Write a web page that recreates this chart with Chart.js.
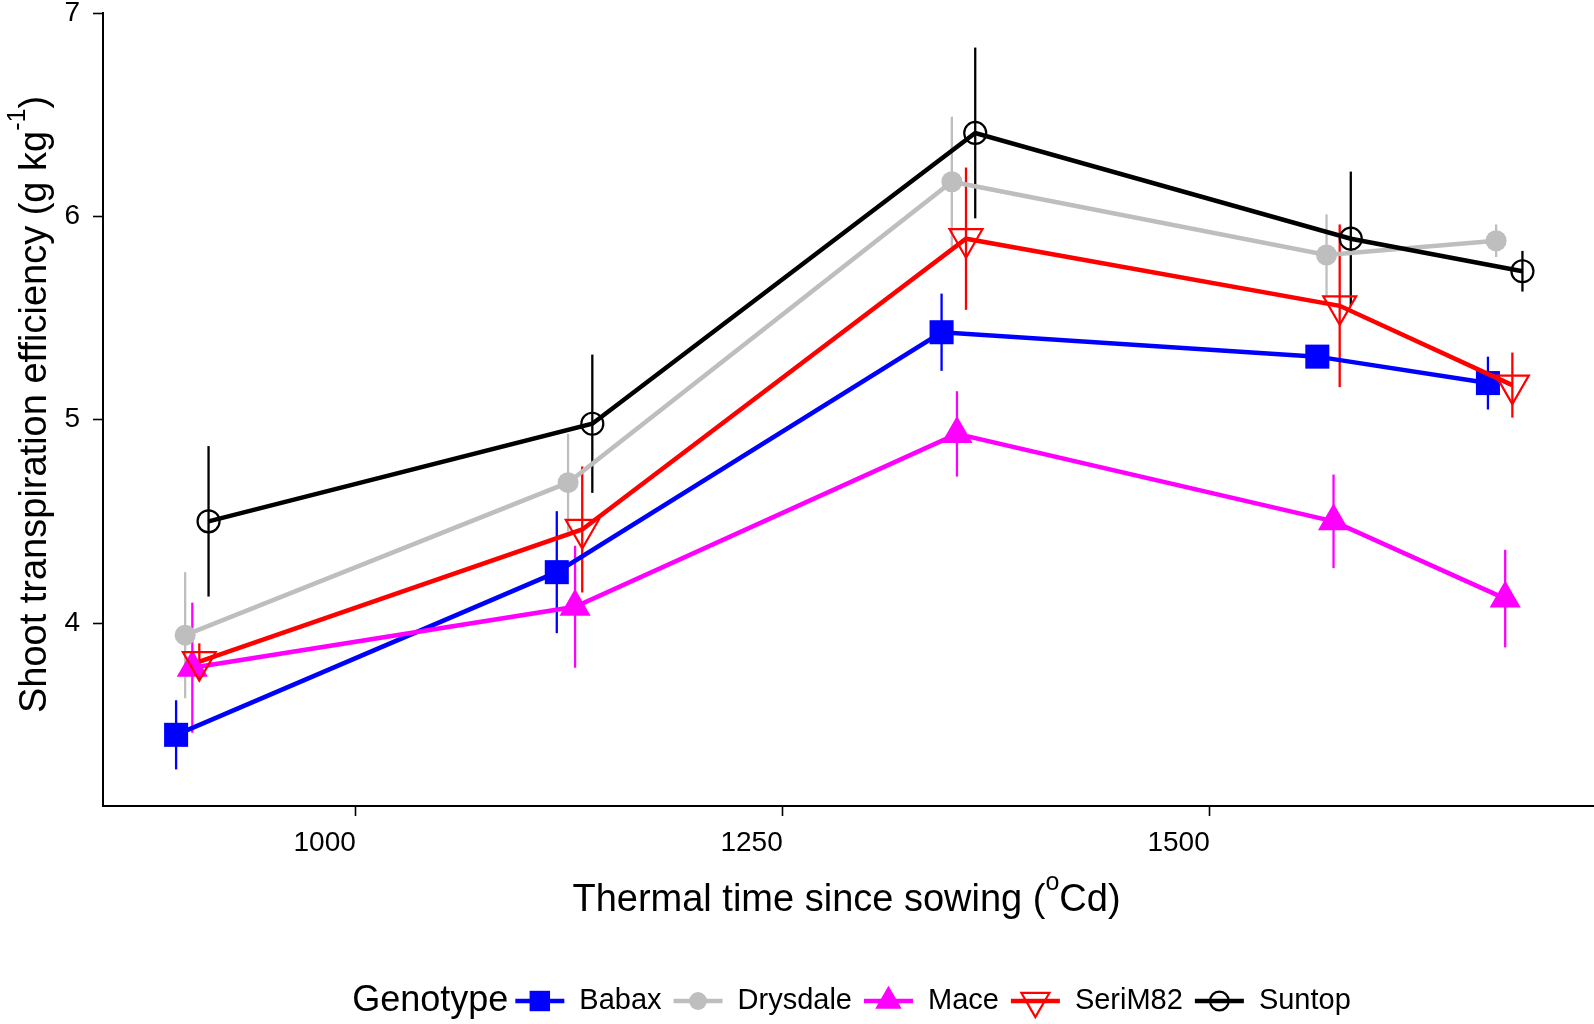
<!DOCTYPE html>
<html>
<head>
<meta charset="utf-8">
<title>Shoot transpiration efficiency</title>
<script src="https://cdn.jsdelivr.net/npm/chart.js@4.4.1/dist/chart.umd.min.js"></script>
<style>
  html, body { margin: 0; padding: 0; background: #fff; }
  #wrap { width: 1594px; height: 1024px; position: relative; }
</style>
</head>
<body>
<div id="wrap"><canvas id="te-chart"></canvas></div>
<script>
// genotypes, in legend order
const genotypes = ['Babax', 'Drysdale', 'Mace', 'SeriM82', 'Suntop'];

// thermal time since sowing (oCd), dodged per genotype
const xBabax = [894.8, 1117.7, 1343.0, 1563.0, 1662.9];
const xDrysdale = [900.1, 1124.3, 1349.0, 1568.4, 1667.7];
const xMace = [904.3, 1128.4, 1352.0, 1572.5, 1673.0];
const xSeriM82 = [908.4, 1132.6, 1357.3, 1576.1, 1677.2];
const xSuntop = [913.8, 1138.5, 1362.7, 1582.6, 1683.1];

// shoot TE means (g/kg)
const yBabax = [3.45, 4.25, 5.43, 5.31, 5.18];
const yDrysdale = [3.94, 4.69, 6.17, 5.81, 5.88];
const yMace = [3.78, 4.08, 4.93, 4.50, 4.12];
const ySeriM82 = [3.81, 4.46, 5.89, 5.56, 5.17];
const ySuntop = [4.50, 4.98, 6.41, 5.89, 5.73];

// standard errors
const eBabax = [0.17, 0.30, 0.19, 0.05, 0.13];
const eDrysdale = [0.31, 0.24, 0.32, 0.20, 0.08];
const eMace = [0.32, 0.30, 0.21, 0.23, 0.24];
const eSeriM82 = [0.09, 0.31, 0.35, 0.40, 0.16];
const eSuntop = [0.37, 0.34, 0.42, 0.33, 0.10];

const xTicks = [1000, 1250, 1500];
const yTicks = [4, 5, 6, 7];

const FONT = "'Liberation Sans', Arial, Helvetica, sans-serif";

const series = [
  { x: xBabax, y: yBabax, e: eBabax },
  { x: xDrysdale, y: yDrysdale, e: eDrysdale },
  { x: xMace, y: yMace, e: eMace },
  { x: xSeriM82, y: ySeriM82, e: eSeriM82 },
  { x: xSuntop, y: ySuntop, e: eSuntop },
];

const colors = ['#0000ff', '#bebebe', '#ff00ff', '#ff0000', '#000000'];
const markers = [
  { style: 'rect', radius: 17, rotation: 0, filled: true },
  { style: 'circle', radius: 10.5, rotation: 0, filled: true },
  { style: 'triangle', radius: 18, rotation: 0, filled: true },
  { style: 'triangle', radius: 19, rotation: 180, filled: false },
  { style: 'circle', radius: 11, rotation: 0, filled: false },
];

// vertical error bars, drawn under lines and points
const errorBars = {
  id: 'errorBars',
  beforeDatasetsDraw(chart) {
    const { ctx } = chart;
    const xs = chart.scales.x;
    const ys = chart.scales.y;
    ctx.save();
    ctx.lineWidth = 2.3;
    chart.data.datasets.forEach((ds, i) => {
      if (!chart.isDatasetVisible(i)) return;
      ctx.strokeStyle = ds.borderColor;
      ds.data.forEach((p, j) => {
        const err = ds.errors[j];
        const px = xs.getPixelForValue(p.x);
        ctx.beginPath();
        ctx.moveTo(px, ys.getPixelForValue(p.y - err));
        ctx.lineTo(px, ys.getPixelForValue(p.y + err));
        ctx.stroke();
      });
    });
    ctx.restore();
  },
};

// text runs with superscripts, e.g. [['(g kg'], ['-1', true], [')']]
function drawRuns(ctx, runs, x, y, size) {
  const supSize = Math.round(size * 0.66);
  const widths = runs.map(([t, sup]) => {
    ctx.font = `${sup ? supSize : size}px ${FONT}`;
    return ctx.measureText(t).width;
  });
  const total = widths.reduce((a, b) => a + b, 0);
  let cx = x - total / 2;
  runs.forEach(([t, sup], i) => {
    ctx.font = `${sup ? supSize : size}px ${FONT}`;
    ctx.fillText(t, cx, sup ? y - size * 0.55 : y);
    cx += widths[i];
  });
}

// axis titles with real superscripts
const axisTitles = {
  id: 'axisTitles',
  afterDraw(chart) {
    const { ctx, chartArea } = chart;
    ctx.save();
    ctx.fillStyle = '#000';
    ctx.textBaseline = 'alphabetic';
    ctx.textAlign = 'left';
    drawRuns(ctx, [['Thermal time since sowing ('], ['o', true], ['Cd)']],
      (chartArea.left + chartArea.right) / 2 - 2, chartArea.bottom + 105, 38);

    ctx.translate(46, (chartArea.top + chartArea.bottom) / 2 - 5);
    ctx.rotate(-Math.PI / 2);
    drawRuns(ctx, [['Shoot transpiration efficiency (g kg'], ['-1', true], [')']], 0, 0, 38);
    ctx.restore();
  },
};

// ggplot-style legend: title inline, then line+marker keys
const genotypeLegend = {
  id: 'genotypeLegend',
  afterDraw(chart) {
    const { ctx, chartArea } = chart;
    const y = chart.height - 23;
    const keyW = 49;
    const titleFont = `36px ${FONT}`;
    const labelFont = `29px ${FONT}`;

    ctx.save();
    ctx.font = titleFont;
    const titleW = ctx.measureText('Genotype').width;
    ctx.font = labelFont;
    const labelW = genotypes.map((g) => ctx.measureText(g).width);
    const total = titleW + 7 + labelW.reduce((a, w) => a + keyW + 15 + w + 12, 0) - 12;
    let x = (chartArea.left + chartArea.right) / 2 + 3 - total / 2;

    ctx.textBaseline = 'middle';
    ctx.textAlign = 'left';
    ctx.fillStyle = '#000';
    ctx.font = titleFont;
    ctx.fillText('Genotype', x, y);
    x += titleW + 7;

    chart.data.datasets.forEach((ds, i) => {
      const m = markers[i];
      ctx.strokeStyle = ds.borderColor;
      ctx.lineWidth = 4.5;
      ctx.beginPath();
      ctx.moveTo(x, y);
      ctx.lineTo(x + keyW, y);
      ctx.stroke();

      ctx.fillStyle = m.filled ? ds.borderColor : 'rgba(0,0,0,0)';
      ctx.lineWidth = m.filled ? 0 : 2.2;
      Chart.helpers.drawPoint(ctx, {
        pointStyle: m.style,
        radius: m.radius * 0.85,
        rotation: m.rotation,
        borderWidth: m.filled ? 0 : 2.2,
      }, x + keyW / 2, y);

      x += keyW + 15;
      ctx.fillStyle = '#000';
      ctx.font = labelFont;
      ctx.fillText(genotypes[i], x, y);
      x += labelW[i] + 12;
    });
    ctx.restore();
  },
};

const datasets = genotypes.map((g, i) => {
  const m = markers[i];
  return {
    label: g,
    data: series[i].x.map((x, j) => ({ x, y: series[i].y[j] })),
    errors: series[i].e,
    borderColor: colors[i],
    backgroundColor: colors[i],
    borderWidth: 4.5,
    tension: 0,
    pointStyle: m.style,
    pointRadius: m.radius,
    pointHoverRadius: m.radius,
    pointRotation: m.rotation,
    pointBackgroundColor: m.filled ? colors[i] : 'rgba(0,0,0,0)',
    pointBorderColor: colors[i],
    pointBorderWidth: m.filled ? 0 : 2.2,
    pointHoverBorderWidth: m.filled ? 0 : 2.2,
    order: genotypes.length - i, // later genotypes on top
  };
});

const axisGrid = {
  display: true,
  drawOnChartArea: false,
  drawTicks: true,
  tickLength: 10,
  tickWidth: 1.6,
  tickColor: '#000',
};
const axisBorder = { display: true, color: '#000', width: 2 };

new Chart(document.getElementById('te-chart'), {
  type: 'line',
  data: { datasets },
  options: {
    responsive: true,
    maintainAspectRatio: false,
    animation: false,
    layout: { autoPadding: false, padding: { top: 13, right: 0, bottom: 70, left: 0 } },
    plugins: {
      legend: { display: false },
      tooltip: { enabled: false },
    },
    scales: {
      x: {
        type: 'linear',
        min: 852,
        max: 1725,
        afterBuildTicks: (s) => { s.ticks = xTicks.map((v) => ({ value: v })); },
        afterFit: (s) => { s.height = 148; s.paddingLeft = 0; s.paddingRight = 0; },
        grid: axisGrid,
        border: axisBorder,
        ticks: {
          color: '#000',
          font: { family: FONT, size: 28 },
          padding: 10,
          align: 'end',
          maxRotation: 0,
          autoSkip: false,
          callback: (v) => String(v),
        },
        title: { display: false },
      },
      y: {
        type: 'linear',
        min: 3.1,
        max: 7,
        afterBuildTicks: (s) => { s.ticks = yTicks.map((v) => ({ value: v })); },
        afterFit: (s) => { s.width = 103; s.paddingTop = 0; s.paddingBottom = 0; },
        grid: axisGrid,
        border: axisBorder,
        ticks: {
          color: '#000',
          font: { family: FONT, size: 28 },
          padding: 13,
          callback: (v) => String(v),
        },
        title: { display: false },
      },
    },
  },
  plugins: [errorBars, axisTitles, genotypeLegend],
});
</script>
</body>
</html>
